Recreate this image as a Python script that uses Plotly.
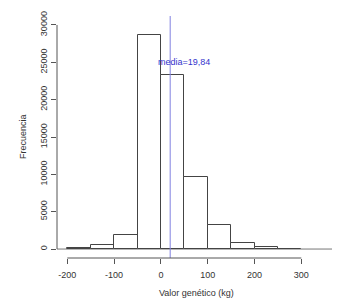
import plotly.graph_objects as go

bin_left = [-200, -150, -100, -50, 0, 50, 100, 150, 200, 250]
bin_width = 50
counts = [80, 560, 1920, 28700, 23350, 9600, 3180, 750, 270, 70]
mean_value = 19.84
mean_label = "media=19,84"
x_ticks = [-200, -100, 0, 100, 200, 300]
y_ticks = [0, 5000, 10000, 15000, 20000, 25000, 30000]

centers = [b + bin_width / 2 for b in bin_left]

font = dict(family="Liberation Sans, Arial, sans-serif", size=9, color="#333333")

fig = go.Figure()
fig.add_trace(go.Bar(
    x=centers, y=counts, width=[bin_width] * len(counts),
    marker=dict(color="white", line=dict(color="#444444", width=1)),
    showlegend=False, hoverinfo="x+y",
))

shapes = [
    dict(type="line", xref="paper", x0=0, x1=1, yref="y", y0=0, y1=0,
         line=dict(color="#777777", width=1), layer="below"),
    dict(type="line", xref="x", x0=mean_value, x1=mean_value, yref="paper", y0=0, y1=1,
         line=dict(color="#8080e0", width=1)),
    dict(type="line", xref="x", x0=x_ticks[0], x1=x_ticks[-1], yref="paper", y0=0, y1=0,
         line=dict(color="#555555", width=1)),
    dict(type="line", xref="paper", x0=0, x1=0, yref="y", y0=y_ticks[0], y1=y_ticks[-1],
         line=dict(color="#555555", width=1)),
]

# page body has an 8px margin; size/margins compensate for it
fig.update_layout(
    width=332, height=297,
    margin=dict(l=49, r=5, t=3, b=47),
    paper_bgcolor="white", plot_bgcolor="white",
    font=font,
    bargap=0,
    shapes=shapes,
    xaxis=dict(range=[-222, 372], tickvals=x_ticks, ticktext=[str(v) for v in x_ticks],
               ticks="outside", ticklen=5, tickcolor="#555555", showgrid=False, zeroline=False,
               showline=False, tickfont=font, ticklabelstandoff=3, ticklabeloverflow="allow"),
    yaxis=dict(range=[-1200, 31200], tickvals=y_ticks, ticktext=[str(v) for v in y_ticks],
               ticks="outside", ticklen=5,
               tickcolor="#555555", showgrid=False, zeroline=False, showline=False,
               tickangle=-90, tickfont=font, ticklabeloverflow="allow"),
    annotations=[
        dict(text=mean_label, x=50, y=25000, xref="x", yref="y", showarrow=False,
             font=dict(family="Liberation Sans, Arial, sans-serif", size=9, color="#3333cc")),
        dict(text="Valor genético (kg)", x=0.5, y=-0.1457, xref="paper", yref="paper",
             showarrow=False, xanchor="center", yanchor="middle", font=font),
        dict(text="Frecuencia", x=-0.1223, y=0.5, xref="paper", yref="paper", textangle=-90,
             showarrow=False, xanchor="center", yanchor="middle", font=font),
    ],
)

fig.write_html("out.html")
